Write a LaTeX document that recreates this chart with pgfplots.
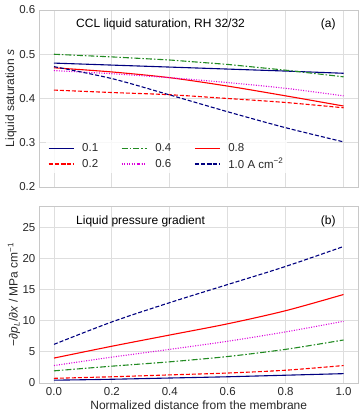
\documentclass[border=0pt,12pt]{standalone}
\usepackage{fontspec}
\setmainfont{Liberation Sans}
\usepackage{pgfplots}
\pgfplotsset{compat=1.18}
\definecolor{cnavy}{RGB}{0,0,128}
\definecolor{cred}{RGB}{255,0,0}
\definecolor{cgreen}{RGB}{34,139,34}
\definecolor{cmag}{RGB}{220,0,220}
\definecolor{gridgray}{RGB}{222,222,222}
\definecolor{framegray}{RGB}{200,200,200}
\definecolor{txtgray}{RGB}{40,40,40}

\pgfplotsset{
  panel/.style={
    scale only axis, width=318.5pt, height=177pt,
    xmin=-0.05, xmax=1.05,
    xtick={0,0.2,0.4,0.6,0.8,1.0},
    grid=major, major grid style={gridgray, line width=0.9pt},
    axis line style={framegray, line width=0.8pt},
    major tick length=0pt,
    tick label style={font=\fontsize{11.5}{13}\selectfont, text=txtgray},
    /pgf/number format/assume math mode=true,
    label style={font=\fontsize{12}{14}\selectfont, text=txtgray},
    every axis plot/.append style={line width=1.1pt},
  },
  legend image code/.code={\draw[#1] plot coordinates {(0pt,0pt)(12.5pt,0pt)(25pt,0pt)};},
}

\begin{document}
\begin{tikzpicture}
\path[use as bounding box] (0,0) rectangle (363pt,417pt);

% (a) liquid saturation
\begin{axis}[panel, at={(39.5pt,230pt)}, anchor=south west,
  ymin=0.2, ymax=0.6, ytick={0.2,0.3,0.4,0.5,0.6},
  yticklabels={0.2,0.3,0.4,0.5,0.6},
  xticklabels={},
  ylabel={Liquid saturation \textit{s}},
  ylabel style={at={(rel axis cs:-0.0895,0.5)}, anchor=center},
  legend columns=3,
  legend style={draw=none, fill=white, fill opacity=0.8, text opacity=1,
    at={(rel axis cs:0.02,0.265)}, anchor=north west,
    font=\fontsize{11.5}{13}\selectfont, text=txtgray,
    inner xsep=2pt, inner ysep=1pt, row sep=1pt,
    /tikz/every odd column/.append style={column sep=6pt},
    /tikz/every even column/.append style={column sep=21pt},
    legend cell align=left}]
\addplot[cnavy] coordinates {(0,0.480)(0.2,0.4755)(0.4,0.471)(0.6,0.4665)(0.8,0.462)(1,0.457)};
\addlegendentry{0.1}
\addplot[cgreen, dash pattern=on 6pt off 2pt on 1.5pt off 2pt] coordinates {(0,0.500)(0.2,0.494)(0.4,0.487)(0.6,0.477)(0.8,0.464)(1,0.449)};
\addlegendentry{0.4}
\addplot[cred, smooth] coordinates {(0,0.4694)(0.2,0.460)(0.4,0.447)(0.6,0.428)(0.8,0.406)(1,0.383)};
\addlegendentry{0.8}
\addplot[cred, dash pattern=on 4pt off 2pt, smooth] coordinates {(0,0.419)(0.2,0.4135)(0.4,0.4085)(0.6,0.400)(0.8,0.391)(1,0.379)};
\addlegendentry{0.2}
\addplot[cmag, dash pattern=on 1pt off 1.5pt, smooth] coordinates {(0,0.463)(0.2,0.456)(0.4,0.447)(0.6,0.436)(0.8,0.423)(1,0.406)};
\addlegendentry{0.6}
\addplot[cnavy, dash pattern=on 4pt off 2pt, smooth] coordinates {(0,0.472)(0.2,0.445)(0.4,0.408)(0.6,0.370)(0.8,0.334)(1,0.302)};
\addlegendentry{1.0 A cm\textsuperscript{−2}}
\node[anchor=west, font=\fontsize{12}{14}\selectfont, text=black] at (rel axis cs:0.102,0.921) {CCL liquid saturation, RH 32/32};
\node[anchor=east, font=\fontsize{12}{14}\selectfont, text=black] at (rel axis cs:0.943,0.921) {(a)};
\end{axis}

% (b) liquid pressure gradient
\begin{axis}[panel, at={(39.5pt,34pt)}, anchor=south west,
  ymin=0, ymax=28.4, ytick={0,5,10,15,20,25},
  xticklabels={0.0,0.2,0.4,0.6,0.8,1.0},
  xlabel={Normalized distance from the membrane},
  xlabel style={at={(rel axis cs:0.5,0)}, anchor=center, yshift=-22pt},
  ylabel={−∂\textit{p}\textsubscript{\textit{L}}/∂\textit{x} / MPa cm\textsuperscript{−1}},
  ylabel style={at={(rel axis cs:-0.08,0.5)}, anchor=center}]
\addplot[cnavy, smooth] coordinates {(0,0.45)(0.2,0.6)(0.4,0.8)(0.6,1.0)(0.8,1.25)(1,1.5)};
\addplot[cred, dash pattern=on 4pt off 2pt, smooth] coordinates {(0,0.75)(0.2,1.0)(0.4,1.3)(0.6,1.6)(0.8,2.05)(1,2.8)};
\addplot[cgreen, dash pattern=on 6pt off 2pt on 1.5pt off 2pt, smooth] coordinates {(0,1.95)(0.2,2.7)(0.4,3.4)(0.6,4.25)(0.8,5.4)(1,6.9)};
\addplot[cmag, dash pattern=on 1pt off 1.5pt, smooth] coordinates {(0,2.8)(0.2,4.15)(0.4,5.4)(0.6,6.7)(0.8,8.2)(1,9.9)};
\addplot[cred, smooth] coordinates {(0,4.0)(0.2,5.9)(0.4,7.7)(0.6,9.5)(0.8,11.6)(1,14.2)};
\addplot[cnavy, dash pattern=on 4pt off 2pt, smooth] coordinates {(0,6.2)(0.2,9.8)(0.4,12.9)(0.6,15.8)(0.8,18.7)(1,21.9)};
\node[anchor=west, font=\fontsize{12}{14}\selectfont, text=black] at (rel axis cs:0.102,0.914) {Liquid pressure gradient};
\node[anchor=east, font=\fontsize{12}{14}\selectfont, text=black] at (rel axis cs:0.943,0.914) {(b)};
\end{axis}
\end{tikzpicture}
\end{document}
